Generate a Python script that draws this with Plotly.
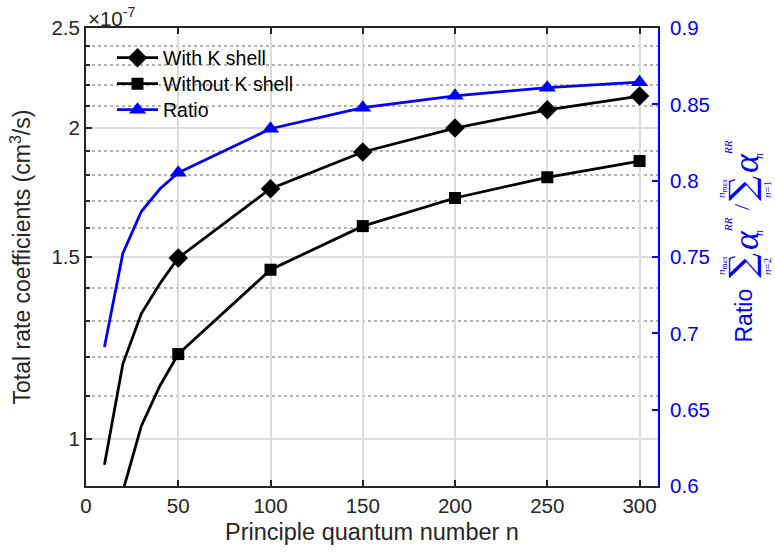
import plotly.graph_objects as go

n = [10, 20, 30, 40, 50, 100, 150, 200, 250, 300]
with_k = [0.9435, 1.182, 1.322, 1.413, 1.497, 1.747, 1.896, 2.0, 2.083, 2.148]   # x1e-7 cm^3/s
without_k = [0.652, 0.890, 1.029, 1.125, 1.208, 1.458, 1.607, 1.711, 1.792, 1.858]  # x1e-7 cm^3/s
ratio = [0.691, 0.7525, 0.7798, 0.7945, 0.8052, 0.834, 0.8478, 0.8556, 0.8609, 0.8645]

x_ticks = [0, 50, 100, 150, 200, 250, 300]
y_ticks = [1, 1.5, 2, 2.5]
y_minor = [0.9, 1.1, 1.2, 1.3, 1.4, 1.6, 1.7, 1.8, 1.9, 2.1, 2.2, 2.3, 2.4]
y2_ticks = [0.6, 0.65, 0.7, 0.75, 0.8, 0.85, 0.9]

FONT = "Liberation Sans, Arial, sans-serif"
SERIF = "Liberation Serif, Times New Roman, serif"
AX = "#262626"
BLUE = "rgb(0,0,255)"
m0 = n.index(50)

W, H = 775, 560
ML, MR, MT, MB = 86, 117, 28, 74
PW, PH = W - ML - MR, H - MT - MB


def px2paper(px, py):
    return (px - ML) / PW, (H - MB - py) / PH


fig = go.Figure()
# line-only leading segments (no markers)
fig.add_trace(go.Scatter(x=n[:m0 + 1], y=with_k[:m0 + 1], mode="lines", line=dict(color="black", width=2.8),
                         showlegend=False, hoverinfo="skip"))
fig.add_trace(go.Scatter(x=n[:m0 + 1], y=without_k[:m0 + 1], mode="lines", line=dict(color="black", width=2.8),
                         showlegend=False, hoverinfo="skip"))
fig.add_trace(go.Scatter(x=n[:m0 + 1], y=ratio[:m0 + 1], mode="lines", line=dict(color=BLUE, width=2.8),
                         showlegend=False, hoverinfo="skip", yaxis="y2"))
# main traces with markers
fig.add_trace(go.Scatter(x=n[m0:], y=with_k[m0:], mode="lines+markers", name="With K shell",
                         line=dict(color="black", width=2.8), legend="legend",
                         marker=dict(symbol="diamond", size=15, color="black")))
fig.add_trace(go.Scatter(x=n[m0:], y=without_k[m0:], mode="lines+markers", name="Without K shell",
                         line=dict(color="black", width=2.8), legend="legend2",
                         marker=dict(symbol="square", size=12, color="black")))
fig.add_trace(go.Scatter(x=n[m0:], y=ratio[m0:], mode="lines+markers", name="Ratio",
                         line=dict(color=BLUE, width=2.8), legend="legend3",
                         marker=dict(symbol="triangle-up", size=15, color=BLUE), yaxis="y2"))


def leg(py):
    lx, ly = px2paper(112, py)
    return dict(x=lx, y=ly, xanchor="left", yanchor="middle", bgcolor="rgba(0,0,0,0)",
                borderwidth=0, font=dict(family=FONT, size=19.5, color="black"), itemwidth=41)


annotations = [dict(text="×10<sup>-7</sup>", xref="paper", yref="paper", x=0.0, y=1.0,
                    xanchor="left", yanchor="bottom", showarrow=False, yshift=-4,
                    font=dict(family=FONT, size=20.5, color=AX))]


def rot(text, px, py, size, family=SERIF):
    ax_, ay_ = px2paper(px, py)
    annotations.append(dict(text=text, xref="paper", yref="paper", x=ax_, y=ay_, xanchor="center",
                            yanchor="middle", showarrow=False, textangle=-90,
                            font=dict(family=family, size=size, color=BLUE)))


# right-axis title: Ratio  sum_{n=2}^{n_max} alpha_n^RR / sum_{n=1}^{n_max} alpha_n^RR
rot("Ratio", 743.5, 315, 23, FONT)
rot("∑", 742, 266, 35, "DejaVu Serif, serif")
rot("<i>n</i><sub>max</sub>", 722, 266, 11)
rot("<i>n</i>=2", 767, 267, 11)
rot("<i>α</i>", 746, 240, 36)
rot("<i>RR</i>", 728, 225, 11)
rot("<i>n</i>", 759, 233, 12)
rot("/", 742, 207, 22)
rot("∑", 742, 189, 35, "DejaVu Serif, serif")
rot("<i>n</i><sub>max</sub>", 722, 189, 11)
rot("<i>n</i>=1", 767, 190, 11)
rot("<i>α</i>", 746, 163, 36)
rot("<i>RR</i>", 728, 148, 11)
rot("<i>n</i>", 759, 156, 12)

fig.update_layout(
    width=W, height=H,
    margin=dict(l=ML, r=MR, t=MT, b=MB),
    paper_bgcolor="white", plot_bgcolor="white",
    font=dict(family=FONT, size=20, color=AX),
    xaxis=dict(range=[0, 310], tickvals=x_ticks, ticks="inside", ticklen=6, tickwidth=1.5, tickcolor=AX,
               showline=True, linecolor=AX, linewidth=2, mirror="ticks",
               showgrid=True, gridcolor="#dcdcdc", gridwidth=1.5, zeroline=False,
               tickfont=dict(size=20.5, color=AX),
               title=dict(text="Principle quantum number n", font=dict(size=23.5, color=AX), standoff=8)),
    yaxis=dict(type="log", range=[-0.045757, 0.39794], tickvals=y_ticks, ticktext=["1", "1.5", "2", "2.5"],
               ticks="inside", ticklen=6, tickwidth=1.5, tickcolor=AX,
               showline=True, linecolor=AX, linewidth=2,
               showgrid=True, gridcolor="#dcdcdc", gridwidth=1.5, zeroline=False,
               minor=dict(tickvals=y_minor, ticks="inside", ticklen=4, tickcolor=AX,
                          showgrid=True, gridcolor="#b4b4b4", griddash="dot", gridwidth=1.5),
               tickfont=dict(size=20.5, color=AX),
               title=dict(text="Total rate coefficients (cm<sup>3</sup>/s)", font=dict(size=23, color=AX), standoff=14)),
    yaxis2=dict(overlaying="y", side="right", range=[0.6, 0.9], tickvals=y2_ticks,
                ticktext=["0.6", "0.65", "0.7", "0.75", "0.8", "0.85", "0.9"],
                ticks="inside", ticklen=6, tickwidth=1.5, tickcolor=BLUE, ticklabelstandoff=6,
                showline=True, linecolor=BLUE, linewidth=2, showgrid=False, zeroline=False,
                tickfont=dict(size=20.5, color=BLUE)),
    legend=leg(58), legend2=leg(84), legend3=leg(110),
    annotations=annotations,
)

fig.write_html("out.html")
